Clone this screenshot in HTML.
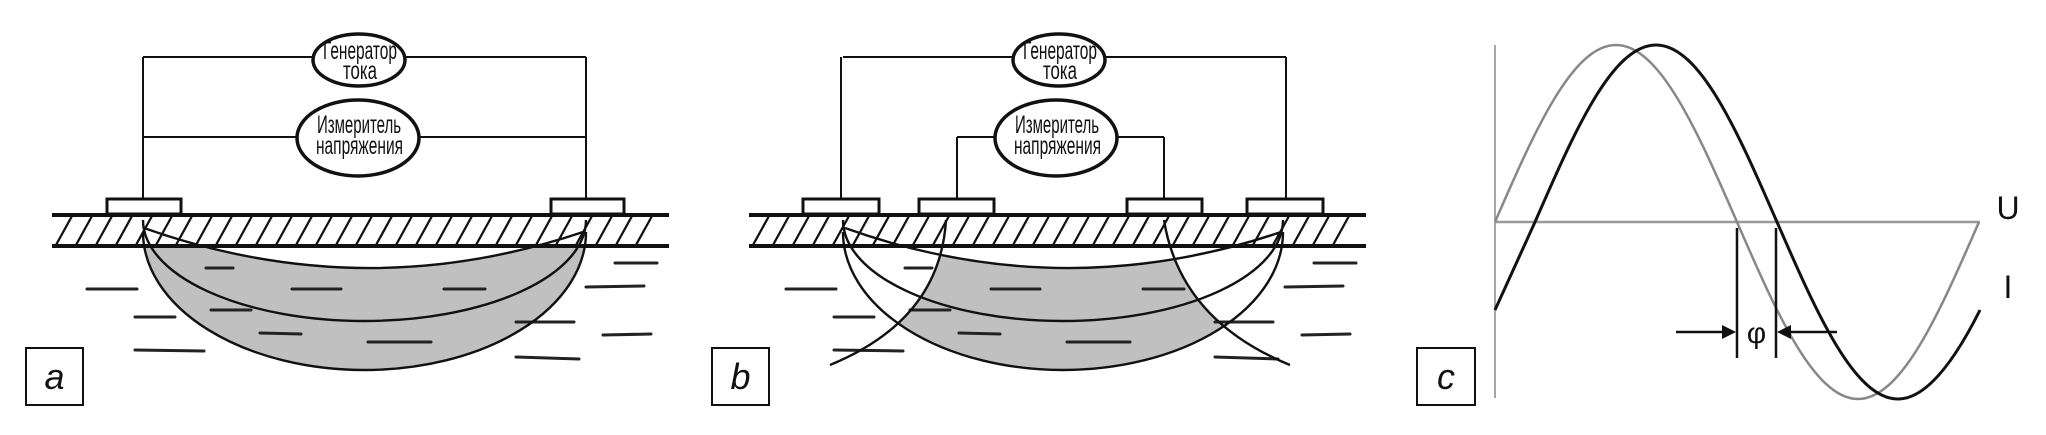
<!DOCTYPE html>
<html><head><meta charset="utf-8"><style>
html,body{margin:0;padding:0;background:#fff;}
svg{display:block;}
text{font-family:"Liberation Sans Narrow","Liberation Sans","DejaVu Sans",sans-serif;fill:#111;}
</style></head><body>
<svg width="2046" height="435" viewBox="0 0 2046 435" xmlns="http://www.w3.org/2000/svg">
<defs>
<g id="dashes" stroke="#222" stroke-width="3" stroke-linecap="round">
<line x1="87" y1="289" x2="137" y2="289"/>
<line x1="135" y1="317" x2="175" y2="317"/>
<line x1="135" y1="350" x2="204" y2="351"/>
<line x1="206" y1="268" x2="233" y2="268"/>
<line x1="211" y1="310" x2="251" y2="310"/>
<line x1="260" y1="333" x2="301" y2="334"/>
<line x1="292" y1="289" x2="341" y2="289"/>
<line x1="368" y1="342" x2="431" y2="342"/>
<line x1="444" y1="289" x2="485" y2="289"/>
<line x1="516" y1="322" x2="574" y2="322"/>
<line x1="516" y1="357" x2="579" y2="359"/>
<line x1="586" y1="287" x2="644" y2="286"/>
<line x1="615" y1="263" x2="657" y2="263"/>
<line x1="603" y1="335" x2="651" y2="334"/>
</g>
<g id="hatch" stroke="#111" stroke-width="2.3">
<line x1="56" y1="245" x2="72" y2="216"/><line x1="76" y1="245" x2="92" y2="216"/><line x1="96" y1="245" x2="112" y2="216"/><line x1="116" y1="245" x2="132" y2="216"/><line x1="136" y1="245" x2="152" y2="216"/><line x1="156" y1="245" x2="172" y2="216"/><line x1="176" y1="245" x2="192" y2="216"/><line x1="196" y1="245" x2="212" y2="216"/><line x1="216" y1="245" x2="232" y2="216"/><line x1="236" y1="245" x2="252" y2="216"/><line x1="256" y1="245" x2="272" y2="216"/><line x1="276" y1="245" x2="292" y2="216"/><line x1="296" y1="245" x2="312" y2="216"/><line x1="316" y1="245" x2="332" y2="216"/><line x1="336" y1="245" x2="352" y2="216"/><line x1="356" y1="245" x2="372" y2="216"/><line x1="376" y1="245" x2="392" y2="216"/><line x1="396" y1="245" x2="412" y2="216"/><line x1="416" y1="245" x2="432" y2="216"/><line x1="436" y1="245" x2="452" y2="216"/><line x1="456" y1="245" x2="472" y2="216"/><line x1="476" y1="245" x2="492" y2="216"/><line x1="496" y1="245" x2="512" y2="216"/><line x1="516" y1="245" x2="532" y2="216"/><line x1="536" y1="245" x2="552" y2="216"/><line x1="556" y1="245" x2="572" y2="216"/><line x1="576" y1="245" x2="592" y2="216"/><line x1="596" y1="245" x2="612" y2="216"/><line x1="616" y1="245" x2="632" y2="216"/><line x1="636" y1="245" x2="652" y2="216"/>
</g>
<g id="gen">
<line x1="143" y1="57" x2="314" y2="57" stroke="#111" stroke-width="2"/>
<line x1="404" y1="57" x2="586" y2="57" stroke="#111" stroke-width="2"/>
<ellipse cx="359" cy="60" rx="46" ry="26" fill="#fff" stroke="#111" stroke-width="3.5"/>
<text x="323" y="59" font-size="25" textLength="74" lengthAdjust="spacingAndGlyphs">Генератор</text>
<text x="343" y="79" font-size="25" textLength="34" lengthAdjust="spacingAndGlyphs">тока</text>
</g>
<g id="meter">
<ellipse cx="358" cy="138" rx="61" ry="38" fill="#fff" stroke="#111" stroke-width="3.5"/>
<text x="317" y="133" font-size="25" textLength="84" lengthAdjust="spacingAndGlyphs">Измеритель</text>
<text x="316" y="154" font-size="25" textLength="87" lengthAdjust="spacingAndGlyphs">напряжения</text>
</g>
<clipPath id="cb"><path d="M946,220 Q940,320 830,365 L830,430 L1300,430 L1290,365 Q1180,320 1164,220 Z"/></clipPath>
</defs>

<!-- Panel a -->
<path d="M143,232 A221.5,138 0 0 0 586,232 L583,232 Q364,306 144,228 Z" fill="#c0c0c0"/>
<use href="#dashes"/>
<rect x="52" y="216" width="617" height="29" fill="#fff"/>
<use href="#hatch"/>
<line x1="52" y1="215" x2="669" y2="215" stroke="#111" stroke-width="4"/>
<line x1="52" y1="246" x2="669" y2="246" stroke="#111" stroke-width="4"/>
<g fill="none" stroke="#111" stroke-width="2.4">
<path d="M143,232 A221.5,138 0 0 0 586,232"/>
<path d="M143,220 A221.5,101 0 0 0 586,220"/>
<path d="M144,228 Q364,306 583,232"/>
</g>
<line x1="143" y1="57" x2="143" y2="199" stroke="#111" stroke-width="2"/>
<line x1="586" y1="57" x2="586" y2="199" stroke="#111" stroke-width="2"/>
<line x1="143" y1="137" x2="297" y2="137" stroke="#111" stroke-width="2"/>
<line x1="419" y1="137" x2="586" y2="137" stroke="#111" stroke-width="2"/>
<use href="#gen"/>
<use href="#meter"/>
<rect x="107" y="199" width="74" height="15" fill="#fff" stroke="#111" stroke-width="3"/>
<rect x="551" y="199" width="73" height="15" fill="#fff" stroke="#111" stroke-width="3"/>
<rect x="26" y="348" width="57" height="57" fill="#fff" stroke="#111" stroke-width="2"/>
<text x="54.5" y="389" font-size="36" font-style="italic" text-anchor="middle">a</text>

<!-- Panel b -->
<g clip-path="url(#cb)"><path d="M843,232 A220,138 0 0 0 1283,232 L1281,232 Q1063,306 845,228 Z" fill="#c0c0c0"/></g>
<use href="#dashes" transform="translate(699,0)"/>
<rect x="749" y="216" width="617" height="29" fill="#fff"/>
<use href="#hatch" transform="translate(697,0)"/>
<line x1="749" y1="215" x2="1366" y2="215" stroke="#111" stroke-width="4"/>
<line x1="749" y1="246" x2="1366" y2="246" stroke="#111" stroke-width="4"/>
<g fill="none" stroke="#111" stroke-width="2.4">
<path d="M843,232 A220,138 0 0 0 1283,232"/>
<path d="M843,220 A220,101 0 0 0 1283,220"/>
<path d="M845,228 Q1063,306 1281,232"/>
<path d="M946,220 Q940,320 830,365"/>
<path d="M1164,220 Q1180,320 1290,365"/>
</g>
<g transform="translate(700,0)"><use href="#gen"/></g>
<line x1="841" y1="57" x2="841" y2="199" stroke="#111" stroke-width="2"/>
<line x1="1286" y1="57" x2="1286" y2="199" stroke="#111" stroke-width="2"/>
<line x1="957" y1="137" x2="1000" y2="137" stroke="#111" stroke-width="2"/>
<line x1="1110" y1="137" x2="1164" y2="137" stroke="#111" stroke-width="2"/>
<line x1="957" y1="137" x2="957" y2="199" stroke="#111" stroke-width="2"/>
<line x1="1164" y1="137" x2="1164" y2="199" stroke="#111" stroke-width="2"/>
<g transform="translate(698,0)"><use href="#meter"/></g>
<rect x="803" y="199" width="76" height="15" fill="#fff" stroke="#111" stroke-width="3"/>
<rect x="919" y="199" width="75" height="15" fill="#fff" stroke="#111" stroke-width="3"/>
<rect x="1127" y="199" width="75" height="15" fill="#fff" stroke="#111" stroke-width="3"/>
<rect x="1247" y="199" width="76" height="15" fill="#fff" stroke="#111" stroke-width="3"/>
<rect x="712" y="348" width="57" height="57" fill="#fff" stroke="#111" stroke-width="2"/>
<text x="740.5" y="389" font-size="36" font-style="italic" text-anchor="middle">b</text>

<!-- Panel c -->
<line x1="1495" y1="45" x2="1495" y2="398" stroke="#888" stroke-width="1.5"/>
<line x1="1495" y1="222" x2="1980" y2="222" stroke="#999" stroke-width="2.5"/>
<path d="M1495,222 C1534.5,131.3 1572.2,45 1616,45 C1659.8,45 1697.5,131.3 1737,222 C1776.5,312.7 1814.2,399 1858,399 C1901.8,399 1939.5,312.7 1979,222" fill="none" stroke="#888" stroke-width="2.5"/>
<path d="M1495,310 L1535,222 C1574.5,131.3 1612.2,45 1656,45 C1699.8,45 1737.5,131.3 1777,222 C1816.5,312.7 1854.2,399 1898,399 C1930,399 1960,350 1980,310" fill="none" stroke="#111" stroke-width="3"/>
<line x1="1737" y1="228" x2="1737" y2="358" stroke="#111" stroke-width="2.5"/>
<line x1="1776" y1="228" x2="1776" y2="358" stroke="#111" stroke-width="2.5"/>
<line x1="1676" y1="332" x2="1724" y2="332" stroke="#111" stroke-width="2.5"/>
<polygon points="1736,332 1722,325 1722,339" fill="#111"/>
<line x1="1789" y1="332" x2="1837" y2="332" stroke="#111" stroke-width="2.5"/>
<polygon points="1777,332 1791,325 1791,339" fill="#111"/>
<text x="1756.5" y="343" font-size="30" text-anchor="middle">φ</text>
<text x="2008" y="219" font-size="32" text-anchor="middle">U</text>
<text x="2008" y="298" font-size="32" text-anchor="middle">I</text>
<rect x="1417" y="348" width="58" height="57" fill="#fff" stroke="#111" stroke-width="2"/>
<text x="1446" y="389" font-size="36" font-style="italic" text-anchor="middle">c</text>
</svg>
</body></html>
